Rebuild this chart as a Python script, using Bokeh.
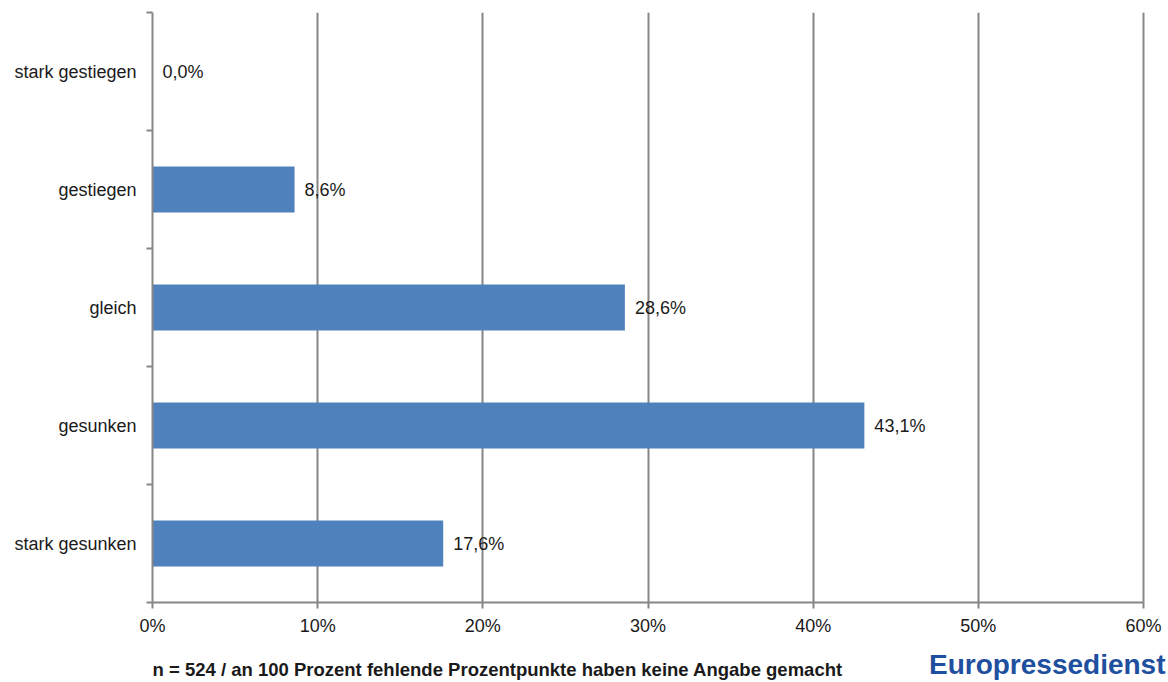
from bokeh.plotting import figure
from bokeh.layouts import column
from bokeh.models import ColumnDataSource, FixedTicker, Label, Range1d
from bokeh.core.properties import value
from bokeh.embed import file_html
from bokeh.resources import INLINE

categories = ["stark gesunken", "gesunken", "gleich", "gestiegen", "stark gestiegen"]
values = [17.6, 43.1, 28.6, 8.6, 0.0]
x_ticks = [0, 10, 20, 30, 40, 50, 60]
x_tick_labels = ["0%", "10%", "20%", "30%", "40%", "50%", "60%"]
footer = "n = 524 / an 100 Prozent fehlende Prozentpunkte haben keine Angabe gemacht"
logo = "Europressedienst"

FONT = "Liberation Sans"
GRAY = "#868686"
TXT = "#1a1a1a"
ypos = [i + 0.5 for i in range(len(categories))]
labels = [("%.1f" % v).replace(".", ",") + "%" for v in values]

# frame extends a little past the 60% line so that the logo below fits in it
x_max = x_ticks[-1]
x_end = x_max * 1014 / 991

src = ColumnDataSource(dict(y=ypos, v=values, lab=labels))

p = figure(width=1168, height=640, output_backend="svg", toolbar_location=None,
           x_range=Range1d(0, x_end), y_range=Range1d(0, len(categories)),
           min_border_left=152, min_border_right=2, min_border_top=12, min_border_bottom=38)
p.outline_line_color = None
p.background_fill_color = "white"

p.hbar(y="y", right="v", left=0, height=0.39, source=src, fill_color="#4f81bd", line_color=None)
p.text(x="v", y="y", text="lab", source=src, x_offset=10, text_baseline="middle",
       text_font=value(FONT), text_font_size="18px", text_color=TXT)

# x axis
p.xaxis.ticker = FixedTicker(ticks=x_ticks)
p.xaxis.bounds = (0, x_max)
p.xaxis.major_label_overrides = {t: l for t, l in zip(x_ticks, x_tick_labels)}
p.xaxis.axis_line_color = GRAY
p.xaxis.axis_line_width = 2
p.xaxis.major_tick_line_color = GRAY
p.xaxis.major_tick_line_width = 2
p.xaxis.major_tick_out = 6
p.xaxis.major_tick_in = 0
p.xaxis.minor_tick_line_color = None
p.xaxis.major_label_text_font = FONT
p.xaxis.major_label_text_font_size = "18px"
p.xaxis.major_label_text_color = TXT
p.xaxis.major_label_standoff = 7

# y axis: labels at band centres, tick marks at band boundaries
p.yaxis.ticker = FixedTicker(ticks=ypos, minor_ticks=list(range(len(categories) + 1)))
p.yaxis.major_label_overrides = {y: c for y, c in zip(ypos, categories)}
p.yaxis.axis_line_color = GRAY
p.yaxis.axis_line_width = 2
p.yaxis.major_tick_line_color = None
p.yaxis.major_tick_out = 6
p.yaxis.minor_tick_line_color = GRAY
p.yaxis.minor_tick_line_width = 2
p.yaxis.minor_tick_out = 6
p.yaxis.minor_tick_in = 0
p.yaxis.major_label_text_font = FONT
p.yaxis.major_label_text_font_size = "18px"
p.yaxis.major_label_text_color = TXT
p.yaxis.major_label_standoff = 10

p.xgrid.ticker = FixedTicker(ticks=x_ticks)
p.xgrid.grid_line_color = GRAY
p.xgrid.grid_line_width = 2
p.ygrid.grid_line_color = None

# footer strip (its frame is aligned with the chart frame by the column layout)
f = figure(width=1168, height=40, output_backend="svg", toolbar_location=None,
           x_axis_type=None, y_axis_type=None, min_border=0,
           x_range=Range1d(0, 1), y_range=Range1d(0, 1))
f.outline_line_color = None
f.xgrid.grid_line_color = None
f.ygrid.grid_line_color = None
f.add_layout(Label(x=0, y=11, x_units="screen", y_units="screen", text=footer,
                   text_font=FONT, text_font_size="18.5px", text_font_style="bold",
                   text_color=TXT, text_baseline="middle"))
f.add_layout(Label(x=1013, y=16, x_units="screen", y_units="screen", text=logo,
                   text_font=FONT, text_font_size="28px", text_font_style="bold",
                   text_color="#1f4f9f", text_align="right", text_baseline="middle"))

layout = column(p, f, spacing=0)
open("out.html", "w").write(file_html(layout, INLINE))
